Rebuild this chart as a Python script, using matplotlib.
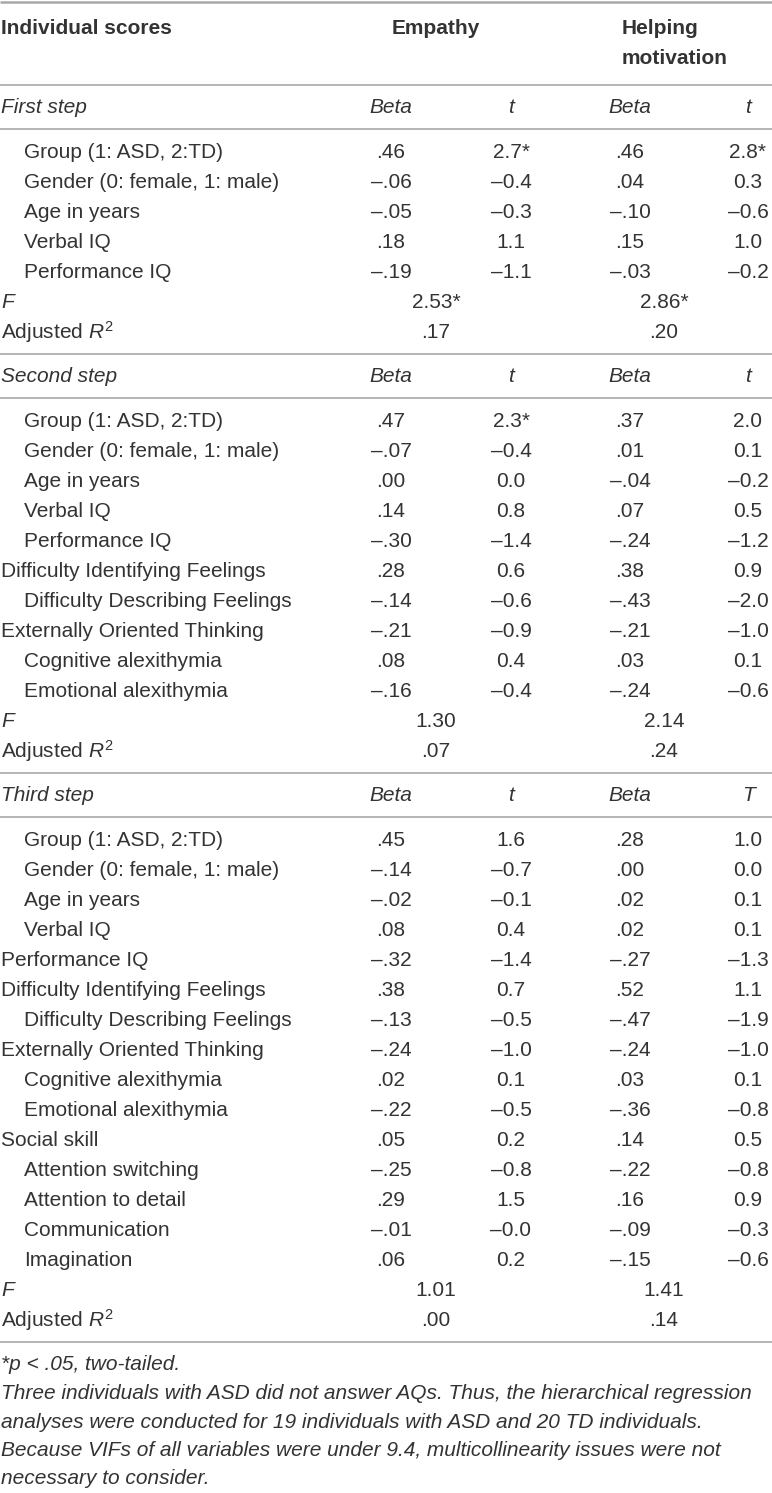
import matplotlib
matplotlib.use('Agg')
import matplotlib.pyplot as plt

# ---- table contents ----
col_groups = ['Empathy', 'Helping\nmotivation']
step_names = ['First step', 'Second step', 'Third step']
sub_headers = [['Beta', 't', 'Beta', 't'],
               ['Beta', 't', 'Beta', 't'],
               ['Beta', 't', 'Beta', 'T']]

vars_1 = ['Group (1: ASD, 2:TD)', 'Gender (0: female, 1: male)', 'Age in years',
          'Verbal IQ', 'Performance IQ']
indent_1 = [1, 1, 1, 1, 1]
emp_beta_1 = ['.46', '–.06', '–.05', '.18', '–.19']
emp_t_1 = ['2.7*', '–0.4', '–0.3', '1.1', '–1.1']
help_beta_1 = ['.46', '.04', '–.10', '.15', '–.03']
help_t_1 = ['2.8*', '0.3', '–0.6', '1.0', '–0.2']
f_1 = ['2.53*', '2.86*']
r2_1 = ['.17', '.20']

vars_2 = ['Group (1: ASD, 2:TD)', 'Gender (0: female, 1: male)', 'Age in years',
          'Verbal IQ', 'Performance IQ', 'Difficulty Identifying Feelings',
          'Difficulty Describing Feelings', 'Externally Oriented Thinking',
          'Cognitive alexithymia', 'Emotional alexithymia']
indent_2 = [1, 1, 1, 1, 1, 0, 1, 0, 1, 1]
emp_beta_2 = ['.47', '–.07', '.00', '.14', '–.30', '.28', '–.14', '–.21', '.08', '–.16']
emp_t_2 = ['2.3*', '–0.4', '0.0', '0.8', '–1.4', '0.6', '–0.6', '–0.9', '0.4', '–0.4']
help_beta_2 = ['.37', '.01', '–.04', '.07', '–.24', '.38', '–.43', '–.21', '.03', '–.24']
help_t_2 = ['2.0', '0.1', '–0.2', '0.5', '–1.2', '0.9', '–2.0', '–1.0', '0.1', '–0.6']
f_2 = ['1.30', '2.14']
r2_2 = ['.07', '.24']

vars_3 = ['Group (1: ASD, 2:TD)', 'Gender (0: female, 1: male)', 'Age in years',
          'Verbal IQ', 'Performance IQ', 'Difficulty Identifying Feelings',
          'Difficulty Describing Feelings', 'Externally Oriented Thinking',
          'Cognitive alexithymia', 'Emotional alexithymia', 'Social skill',
          'Attention switching', 'Attention to detail', 'Communication', 'Imagination']
indent_3 = [1, 1, 1, 1, 0, 0, 1, 0, 1, 1, 0, 1, 1, 1, 1]
emp_beta_3 = ['.45', '–.14', '–.02', '.08', '–.32', '.38', '–.13', '–.24', '.02', '–.22',
              '.05', '–.25', '.29', '–.01', '.06']
emp_t_3 = ['1.6', '–0.7', '–0.1', '0.4', '–1.4', '0.7', '–0.5', '–1.0', '0.1', '–0.5',
           '0.2', '–0.8', '1.5', '–0.0', '0.2']
help_beta_3 = ['.28', '.00', '.02', '.02', '–.27', '.52', '–.47', '–.24', '.03', '–.36',
               '.14', '–.22', '.16', '–.09', '–.15']
help_t_3 = ['1.0', '0.0', '0.1', '0.1', '–1.3', '1.1', '–1.9', '–1.0', '0.1', '–0.8',
            '0.5', '–0.8', '0.9', '–0.3', '–0.6']
f_3 = ['1.01', '1.41']
r2_3 = ['.00', '.14']

footnotes = ['*p < .05, two-tailed.',
             'Three individuals with ASD did not answer AQs. Thus, the hierarchical regression',
             'analyses were conducted for 19 individuals with ASD and 20 TD individuals.',
             'Because VIFs of all variables were under 9.4, multicollinearity issues were not',
             'necessary to consider.']

blocks = [
    (vars_1, indent_1, [emp_beta_1, emp_t_1, help_beta_1, help_t_1], f_1, r2_1),
    (vars_2, indent_2, [emp_beta_2, emp_t_2, help_beta_2, help_t_2], f_2, r2_2),
    (vars_3, indent_3, [emp_beta_3, emp_t_3, help_beta_3, help_t_3], f_3, r2_3),
]

# ---- layout ----
W, H = 772, 1493
FONT = 'Liberation Sans'
FS = 15.0
TXT = '#333333'
RULE = '#a8a8a8'
col_x = [391, 511, 630, 748]
group_x = [392, 622]
stat_x = [436, 664]
indent_px = 23
row_h = 30

plt.rcParams['font.family'] = [FONT, 'DejaVu Sans']
plt.rcParams['mathtext.fontset'] = 'custom'
plt.rcParams['mathtext.rm'] = FONT
plt.rcParams['mathtext.it'] = FONT + ':italic'

fig = plt.figure(figsize=(W / 100, H / 100), dpi=100)
ax = fig.add_axes([0, 0, 1, 1])
ax.set_xlim(0, W)
ax.set_ylim(H, 0)
ax.axis('off')


def txt(x, y, s, ha='left', style='normal', weight='normal'):
    ax.text(x, y, s, ha=ha, va='center', fontsize=FS, color=TXT,
            fontstyle=style, fontweight=weight)


def rule(y, lw=1.2):
    ax.plot([0, W], [y, y], color=RULE, lw=lw, solid_capstyle='butt')


rule(1.5, lw=1.8)
txt(1, 28, 'Individual scores', weight='bold')
txt(group_x[0], 28, col_groups[0], weight='bold')
for i, line in enumerate(col_groups[1].split('\n')):
    txt(group_x[1], 28 + 30 * i, line, weight='bold')
y = 85
rule(y)

for b, (names, indent, cols, fvals, r2vals) in enumerate(blocks):
    y += 22.5
    txt(1, y, step_names[b], style='italic')
    for c, h in enumerate(sub_headers[b]):
        txt(col_x[c], y, h, ha='center', style='italic')
    y += 21.5
    rule(y)
    y += 23.5
    for r, name in enumerate(names):
        txt(1 + indent_px * indent[r], y, name)
        for c in range(4):
            txt(col_x[c], y, cols[c][r], ha='center')
        y += row_h
    txt(1, y, 'F', style='italic')
    for c in range(2):
        txt(stat_x[c], y, fvals[c], ha='center')
    y += row_h
    txt(1, y, 'Adjusted $R^2$')
    for c in range(2):
        txt(stat_x[c], y, r2vals[c], ha='center')
    y += 21.5
    rule(y)

y += 23
for line in footnotes:
    txt(1, y, line, style='italic')
    y += 28.5

fig.savefig('out.png', dpi=100)
